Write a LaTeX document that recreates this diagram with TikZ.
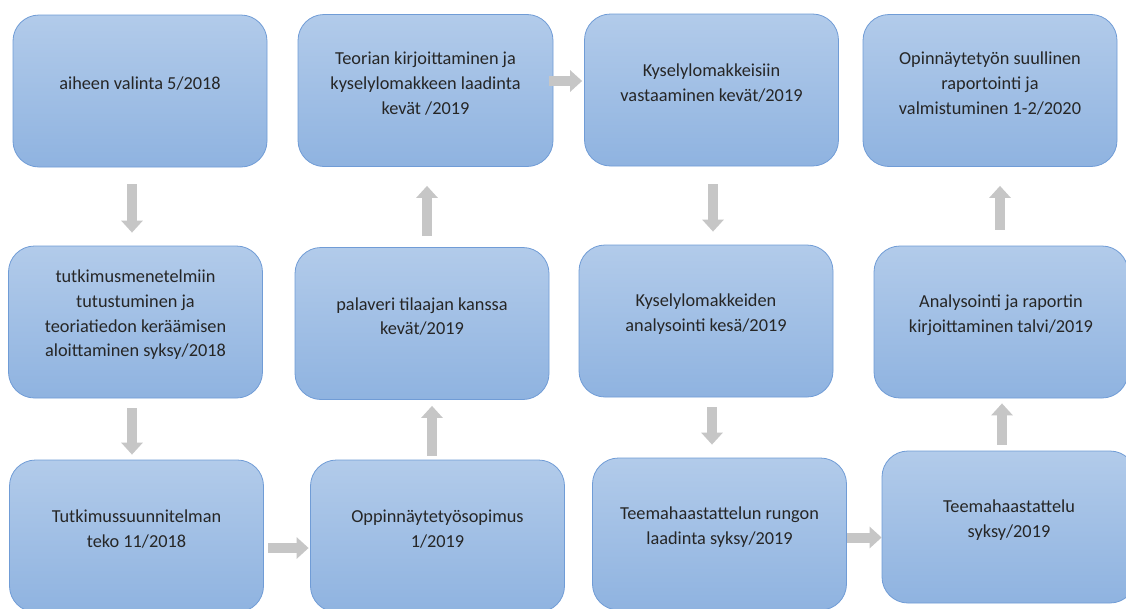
\documentclass[tikz,border=0pt]{standalone}
\usepackage{fontspec}
\setmainfont{Carlito}
\usetikzlibrary{arrows.meta}
\definecolor{boxtop}{RGB}{178,203,234}
\definecolor{boxbot}{RGB}{143,179,224}
\definecolor{boxline}{RGB}{112,156,214}
\definecolor{arr}{RGB}{198,198,198}
\definecolor{txt}{RGB}{38,38,38}
\tikzset{
  box/.style={rectangle, rounded corners=26pt, minimum width=254pt, minimum height=152pt,
    top color=boxtop, bottom color=boxbot, draw=boxline, line width=0.8pt, inner sep=0pt},
  lbl/.style={align=center, text=txt, font=\fontsize{18.3}{24.6}\selectfont, yshift=7pt},
  blk/.style={line width=10pt, draw=arr, -{Triangle[width=21pt,length=12pt]}}
}
\begin{document}
\begin{tikzpicture}[x=1pt,y=-1pt]
\clip (0,0) rectangle (1126,608);
\fill[white] (0,0) rectangle (1126,608);
% row 1
\node[box, label={[lbl]center:{aiheen valinta 5/2018}}] (A) at (140,91) {};
\node[box, minimum width=255pt, label={[lbl]center:{Teorian kirjoittaminen ja\\kyselylomakkeen laadinta\\kevät /2019}}] (Teo) at (425.5,90.5) {};
\node[box, label={[lbl]center:{Kyselylomakkeisiin\\vastaaminen kevät/2019}}] (K1) at (711.5,90) {};
\node[box, label={[lbl]center:{Opinnäytetyön suullinen\\raportointi ja\\valmistuminen 1-2/2020}}] (Op) at (990,90.5) {};
% row 2
\node[box, label={[lbl]center:{tutkimusmenetelmiin\\tutustuminen ja\\teoriatiedon keräämisen\\aloittaminen syksy/2018}}] (Tu) at (135.5,322) {};
\node[box, label={[lbl]center:{palaveri tilaajan kanssa\\kevät/2019}}] (Pa) at (422,323.5) {};
\node[box, label={[lbl]center:{Kyselylomakkeiden\\analysointi kesä/2019}}] (K2) at (706,321) {};
\node[box, label={[lbl]center:{Analysointi ja raportin\\kirjoittaminen talvi/2019}}] (An) at (1001,322) {};
% row 3
\node[box, label={[lbl]center:{Tutkimussuunnitelman\\teko 11/2018}}] (Ts) at (136.5,536) {};
\node[box, label={[lbl]center:{Oppinnäytetyösopimus\\1/2019}}] (Os) at (437.5,536) {};
\node[box, label={[lbl]center:{Teemahaastattelun rungon\\laadinta syksy/2019}}] (Tr) at (719.5,534) {};
\node[box, label={[lbl]center:{Teemahaastattelu\\syksy/2019}}] (Th) at (1009,527) {};
% arrows
\draw[blk] ([shift={(-8,17)}]A.south) -- ([shift={(-3.5,-13)}]Tu.north);
\draw[blk] ([shift={(-3.5,10)}]Tu.south) -- ([shift={(-4.5,-5)}]Ts.north);
\draw[blk] ([shift={(4.5,12)}]Ts.east) -- ([shift={(-1.5,12)}]Os.west);
\draw[blk] ([shift={(-5.5,-4)}]Os.north) -- ([shift={(10,6)}]Pa.south);
\draw[blk] ([shift={(5,-11)}]Pa.north) -- ([shift={(1.5,19)}]Teo.south);
\draw[blk] ([shift={(-4,-9.5)}]Teo.east) -- ([shift={(-2,-9)}]K1.west);
\draw[blk] ([shift={(1.5,18)}]K1.south) -- ([shift={(7,-13)}]K2.north);
\draw[blk] ([shift={(6,10)}]K2.south) -- ([shift={(-7.5,-13)}]Tr.north);
\draw[blk] ([shift={(0.5,3.5)}]Tr.east) -- ([shift={(0,10.5)}]Th.west);
\draw[blk] ([shift={(-7,-6)}]Th.north) -- ([shift={(1,5)}]An.south);
\draw[blk] ([shift={(-1,-16)}]An.north) -- ([shift={(10,19)}]Op.south);
\end{tikzpicture}
\end{document}
